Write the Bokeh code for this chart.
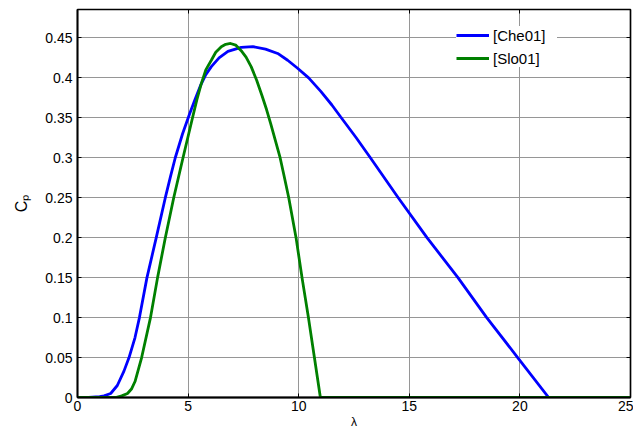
from bokeh.plotting import figure
from bokeh.models import Range1d, FixedTicker, LinearAxis, Legend, LegendItem
from bokeh.embed import file_html
from bokeh.resources import INLINE

# Data
che_lambda = [0, 0.5, 1.0, 1.2, 1.5, 1.8, 2.1, 2.33, 2.6, 2.8, 3.14, 3.56, 3.97, 4.2,
              4.42, 4.75, 5.07, 5.3, 5.57, 5.8, 6.05, 6.4, 6.8, 7.4, 7.93, 8.5, 9.05,
              9.5, 9.95, 10.45, 11.0, 11.5, 11.9, 12.6, 13.24, 14.5, 15.8, 17.2, 18.5,
              19.9, 21.3, 25]
che_cp = [0, 0, 0.001, 0.002, 0.005, 0.015, 0.033, 0.05, 0.075, 0.1, 0.15, 0.2, 0.25, 0.276,
          0.3, 0.33, 0.355, 0.372, 0.391, 0.404, 0.414, 0.425, 0.433, 0.438, 0.439, 0.436,
          0.4305, 0.422, 0.412, 0.4, 0.383, 0.366, 0.351, 0.325, 0.3, 0.25, 0.2, 0.15,
          0.1, 0.05, 0, 0]

slo_lambda = [0, 1.0, 1.72, 2.0, 2.26, 2.45, 2.6, 2.9, 3.3, 3.62, 3.97, 4.35, 4.77, 5.2,
              5.4, 5.6, 5.8, 6.05, 6.25, 6.5, 6.7, 6.92, 7.15, 7.4, 7.62, 7.85, 8.1,
              8.35, 8.55, 8.74, 8.95, 9.16, 9.35, 9.55, 9.88, 10.15, 10.44, 10.71, 10.98, 25]
slo_cp = [0, 0, 0, 0.002, 0.005, 0.011, 0.02, 0.05, 0.1, 0.15, 0.2, 0.25, 0.3, 0.35,
          0.373, 0.393, 0.41, 0.422, 0.432, 0.439, 0.442, 0.443, 0.441, 0.434, 0.426,
          0.414, 0.397, 0.377, 0.36, 0.342, 0.321, 0.3, 0.276, 0.25, 0.2, 0.15, 0.1,
          0.05, 0, 0]

x_tick_labels = ["0", "5", "10", "15", "20", "25"]
y_tick_labels = ["0", "0.05", "0.1", "0.15", "0.2", "0.25", "0.3", "0.35", "0.4", "0.45"]
series_names = ["[Che01]", "[Slo01]"]

FONT = "Liberation Sans"

x_ticks = [float(s) for s in x_tick_labels]
y_ticks = [float(s) for s in y_tick_labels]

p = figure(width=633, height=432, output_backend="svg", toolbar_location=None,
           x_range=Range1d(0, 25), y_range=Range1d(0, 0.4855),
           min_border_left=77, min_border_right=3, min_border_top=9, min_border_bottom=35)
p.background_fill_color = "white"
p.border_fill_color = "white"
p.outline_line_color = "black"
p.outline_line_width = 1.5

# grid
for g in (p.xgrid[0], p.ygrid[0]):
    g.grid_line_color = "#969696"
    g.grid_line_width = 1
p.xgrid[0].ticker = FixedTicker(ticks=x_ticks)
p.ygrid[0].ticker = FixedTicker(ticks=y_ticks)

r1 = p.line(che_lambda, che_cp, line_color="#0000ff", line_width=2.8)
r2 = p.line(slo_lambda, slo_cp, line_color="#008000", line_width=2.8)

# main axes
xa = p.xaxis[0]
ya = p.yaxis[0]
xa.ticker = FixedTicker(ticks=x_ticks)
ya.ticker = FixedTicker(ticks=y_ticks)
xa.major_label_overrides = {float(s): s for s in x_tick_labels}
ya.major_label_overrides = {float(s): s for s in y_tick_labels}
for ax in (xa, ya):
    ax.axis_line_color = "black"
    ax.axis_line_width = 1.8
    ax.major_tick_in = 4
    ax.major_tick_out = 0
    ax.major_tick_line_color = "black"
    ax.minor_tick_line_color = None
    ax.major_label_text_font = FONT
    ax.major_label_text_font_size = "14px"
    ax.major_label_text_color = "black"
    ax.axis_label_text_font = FONT
    ax.axis_label_text_font_style = "normal"
    ax.axis_label_text_color = "black"
xa.major_label_standoff = 3
ya.major_label_standoff = 5
xa.axis_label = "λ"
xa.axis_label_text_font_size = "12px"
xa.axis_label_standoff = 1
ya.axis_label = "Cₚ"
ya.axis_label_text_font_size = "16px"
ya.axis_label_standoff = 12

# top and right tick-only axes
for loc in ("above", "right"):
    ax = LinearAxis(ticker=FixedTicker(ticks=x_ticks if loc == "above" else y_ticks))
    ax.axis_line_color = "black"
    ax.axis_line_width = 1.2
    ax.major_tick_in = 4
    ax.major_tick_out = 0
    ax.minor_tick_line_color = None
    ax.major_label_text_font_size = "0px"
    ax.major_label_text_color = None
    ax.major_label_standoff = 0
    p.add_layout(ax, loc)

legend = Legend(items=[LegendItem(label=series_names[0], renderers=[r1]),
                       LegendItem(label=series_names[1], renderers=[r2])],
                location=(379, 330))
legend.border_line_color = None
legend.background_fill_color = "white"
legend.background_fill_alpha = 1.0
legend.label_text_font = FONT
legend.label_text_font_size = "15px"
legend.label_text_color = "black"
legend.glyph_width = 33
legend.glyph_height = 18
legend.label_height = 18
legend.label_width = 64
legend.label_standoff = 4
legend.spacing = 5
legend.padding = 8
legend.margin = 0
p.add_layout(legend, "center")

open("out.html", "w").write(file_html(p, INLINE))
